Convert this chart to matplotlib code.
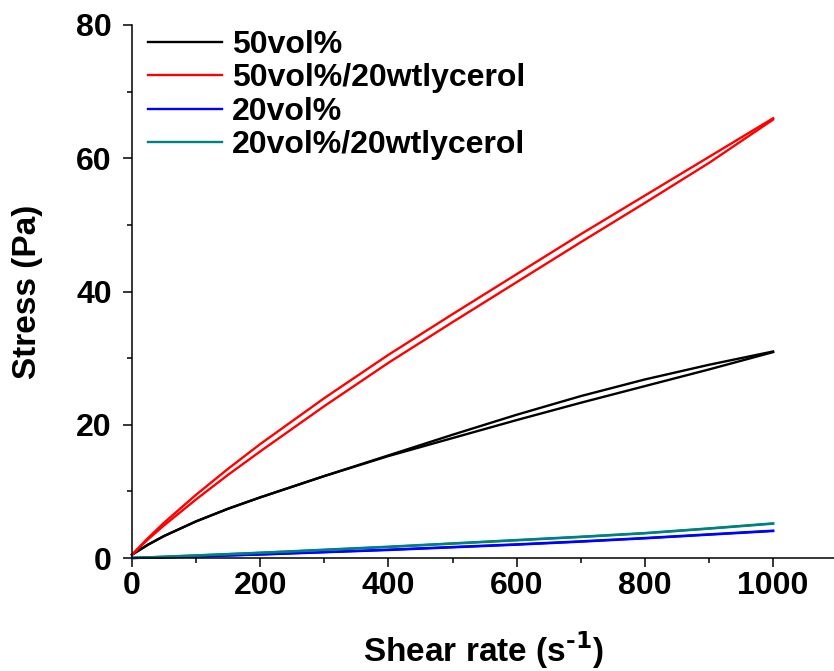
import matplotlib
matplotlib.use("Agg")
import matplotlib.pyplot as plt
from matplotlib.ticker import MultipleLocator, FixedLocator

plt.rcParams['font.family'] = ['Liberation Sans', 'DejaVu Sans']
plt.rcParams['font.weight'] = 'bold'
plt.rcParams['mathtext.default'] = 'bf'

# shear rate (s^-1), shared by all sweeps
shear = [0, 25, 50, 100, 150, 200, 300, 400, 500, 600, 700, 800, 900, 1000]

# stress (Pa): up and down sweep of each sample
s50_up = [0.5, 2.0, 3.3, 5.5, 7.4, 9.1, 12.3, 15.4, 18.5, 21.5, 24.3, 26.8, 29.0, 31.0]
s50_dn = [0.5, 2.0, 3.3, 5.5, 7.4, 9.1, 12.3, 15.3, 18.0, 20.7, 23.3, 25.8, 28.3, 30.9]
s50g_up = [0.5, 3.0, 5.3, 9.5, 13.4, 17.1, 24.0, 30.5, 36.6, 42.6, 48.6, 54.4, 60.2, 66.0]
s50g_dn = [0.5, 2.8, 4.9, 8.8, 12.5, 16.0, 22.8, 29.3, 35.4, 41.4, 47.4, 53.3, 59.3, 65.8]
s20_up = [0.0, 0.05, 0.1, 0.25, 0.4, 0.55, 0.9, 1.25, 1.65, 2.05, 2.5, 3.0, 3.55, 4.1]
s20_dn = [0.0, 0.05, 0.1, 0.22, 0.37, 0.52, 0.86, 1.2, 1.6, 2.0, 2.45, 2.95, 3.5, 4.05]
s20g_up = [0.0, 0.1, 0.2, 0.4, 0.6, 0.8, 1.25, 1.7, 2.2, 2.7, 3.2, 3.75, 4.45, 5.2]
s20g_dn = [0.0, 0.1, 0.18, 0.37, 0.57, 0.77, 1.2, 1.65, 2.15, 2.65, 3.15, 3.7, 4.4, 5.15]

labels = ['50vol%', '50vol%/20wtlycerol', '20vol%', '20vol%/20wtlycerol']
colors = ['black', '#ff0000', '#0000ff', '#008080']
sweeps = [(s50_up, s50_dn), (s50g_up, s50g_dn), (s20_up, s20_dn), (s20g_up, s20g_dn)]

fig = plt.figure(figsize=(8.34, 6.71), dpi=100)
ax = fig.add_axes([132 / 834, 113 / 671, 702 / 834, 533 / 671])

for (up, dn), c, lab in zip(sweeps, colors, labels):
    ax.plot(shear, up, color=c, lw=1.7, label=lab, clip_on=False)
    ax.plot(shear, dn, color=c, lw=1.7, clip_on=False)

ax.set_xlim(0, 1095)
ax.set_ylim(0, 80)
ax.xaxis.set_major_locator(FixedLocator([0, 200, 400, 600, 800, 1000]))
ax.xaxis.set_minor_locator(FixedLocator([100, 300, 500, 700, 900]))
ax.yaxis.set_major_locator(MultipleLocator(20))
ax.yaxis.set_minor_locator(MultipleLocator(10))

for side in ['top', 'right']:
    ax.spines[side].set_visible(False)
for side in ['left', 'bottom']:
    ax.spines[side].set_linewidth(1.1)

ax.tick_params(which='major', direction='out', length=6.5, width=1.1,
               labelsize=23)
ax.tick_params(axis='x', which='major', pad=3)
ax.tick_params(axis='y', which='major', pad=8)
ax.tick_params(which='minor', direction='out', length=3.5, width=1.1)
for t in ax.get_xticklabels() + ax.get_yticklabels():
    t.set_fontweight('bold')

ax.set_xlabel(r'Shear rate (s$^{\text{-}1}$)', fontsize=24, fontweight='bold', labelpad=20)
ax.set_ylabel('Stress (Pa)', fontsize=24, fontweight='bold', labelpad=24)

leg = ax.legend(loc='upper left', bbox_to_anchor=(0.0228, 0.991), frameon=False,
                fontsize=23, handlelength=2.31, handletextpad=0.31,
                labelspacing=0.11, borderpad=0, borderaxespad=0)
for t in leg.get_texts():
    t.set_fontweight('bold')

fig.savefig('out.png', dpi=100)
